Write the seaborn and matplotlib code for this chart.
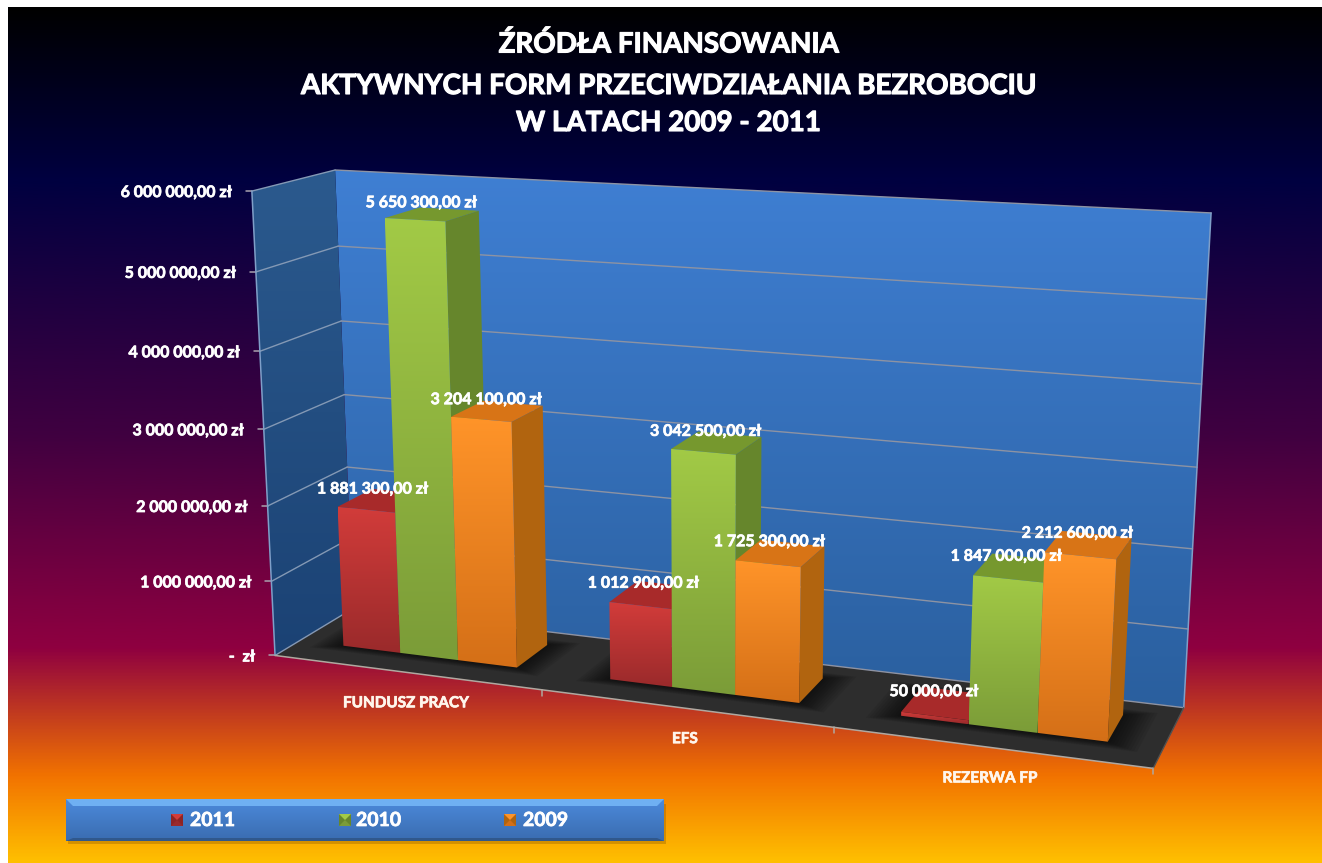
import numpy as np
import pandas as pd
import matplotlib
matplotlib.use("Agg")
import matplotlib.pyplot as plt
import seaborn as sns
from matplotlib.colors import LinearSegmentedColormap
from matplotlib.patches import Polygon
import matplotlib.patheffects as pe

categories = ["FUNDUSZ PRACY", "EFS", "REZERWA FP"]
years = ["2011", "2010", "2009"]
values_2011 = [1881300, 1012900, 50000]
values_2010 = [5650300, 3042500, 1847000]
values_2009 = [3204100, 1725300, 2212600]
y_ticks = [0, 1000000, 2000000, 3000000, 4000000, 5000000, 6000000]
title_lines = ["ŹRÓDŁA FINANSOWANIA", "AKTYWNYCH FORM PRZECIWDZIAŁANIA BEZROBOCIU", "W LATACH 2009 - 2011"]

W, H = 1322, 863
Y_MAX = 6000000

sns.set_theme(style="white")
plt.rcParams["font.family"] = ["Lato", "DejaVu Sans"]
plt.rcParams["font.weight"] = "bold"

df = pd.DataFrame({
    "kategoria": categories * 3,
    "rok": sum([[r] * 3 for r in years], []),
    "kwota": values_2011 + values_2010 + values_2009,
})

fig = plt.figure(figsize=(W / 100, H / 100), dpi=100, facecolor="white")
ax = fig.add_axes([0, 0, 1, 1])
ax.set_axis_off()

# ukryte osie - seaborn liczy slupki, potem rzutujemy je na "3D"
ax_src = fig.add_axes([0, 0, 0.1, 0.1])
sns.barplot(data=df, x="kategoria", y="kwota", hue="rok", hue_order=years, order=categories,
            width=0.66, gap=0, dodge=True, ax=ax_src)
ax_src.set_visible(False)


# kalibracja rzutu perspektywicznego: (u, wartosc, glebokosc) -> piksel
corners_world = [(0, 0, 0), (3, 0, 0), (0, 1, 0), (0, 0, 1), (3, 0, 1), (0, 1, 1), (3, 1, 1)]
corners_px = [(276, 655), (1153, 769), (251, 191), (352, 609), (1184, 707), (336, 170), (1211, 213)]
rows, rhs = [], []
for (a, b, c), (px, py) in zip(corners_world, corners_px):
    rows.append([a, b, c, 1, 0, 0, 0, 0, -px * a, -px * b, -px * c])
    rhs.append(px)
    rows.append([0, 0, 0, 0, a, b, c, 1, -py * a, -py * b, -py * c])
    rhs.append(py)
m = np.linalg.lstsq(np.array(rows, float), np.array(rhs, float), rcond=None)[0]
P = np.append(m, 1.0).reshape(3, 4)


def proj(u, val, d):
    h = P @ np.array([u, val / Y_MAX, d, 1.0])
    return h[0] / h[2], h[1] / h[2]


def grad_poly(pts, top, bottom, z):
    pts = np.array(pts)
    cmap = LinearSegmentedColormap.from_list("g", [top, bottom])
    img = np.linspace(0, 1, 256).reshape(-1, 1)
    poly = Polygon(pts, closed=True, fc="none", ec="none", transform=ax.transData)
    ax.add_patch(poly)
    im = ax.imshow(img, cmap=cmap, aspect="auto", zorder=z, interpolation="bilinear",
                   extent=(pts[:, 0].min(), pts[:, 0].max(), pts[:, 1].max(), pts[:, 1].min()))
    im.set_clip_path(poly)


def bold(lw=0.5, col="white"):
    return [pe.withStroke(linewidth=lw, foreground=col)]


# tlo
bg_cmap = LinearSegmentedColormap.from_list("tlo", [
    (0.0, "#000000"), (0.2, "#000040"), (0.5, "#400040"), (0.75, "#8f0040"), (0.9, "#f27300"), (1.0, "#ffbf00")])
ax.imshow(np.linspace(0, 1, 512).reshape(-1, 1), cmap=bg_cmap, aspect="auto", zorder=0,
          extent=(8, W, H, 8), interpolation="bilinear")

# sciany i podloga
grad_poly([proj(0, 0, 1), proj(3, 0, 1), proj(3, Y_MAX, 1), proj(0, Y_MAX, 1)], "#3f7fd3", "#2a5f9e", 1)
grad_poly([proj(0, 0, 0), proj(0, 0, 1), proj(0, Y_MAX, 1), proj(0, Y_MAX, 0)], "#2b5a8e", "#1b4274", 1)
ax.add_patch(Polygon([proj(0, 0, 0), proj(3, 0, 0), proj(3, 0, 1), proj(0, 0, 1)], closed=True, fc="#2d2d2d", ec="none", zorder=2))

# siatka
for t in y_ticks:
    xa, ya = proj(0, t, 0)
    xb, yb = proj(0, t, 1)
    xc, yc = proj(3, t, 1)
    ax.plot([xa - 6, xa], [ya, ya], color="#a9a3ae", lw=1.1, zorder=3)
    ax.plot([xa, xb], [ya, yb], color="#8499b5", lw=1.0, zorder=3)
    ax.plot([xb, xc], [yb, yc], color="#8d93a3", lw=1.0, zorder=3)
    txt = "-  zł" if t == 0 else f"{t:,.2f} zł".replace(",", " ").replace(".", ",")
    ax.text(xa - 20, ya + 2, txt, color="white", fontsize=11.5, ha="right", va="center", zorder=6, path_effects=bold())
ax.plot(*zip(proj(0, 0, 0), proj(0, Y_MAX, 0)), color="#7f9fc8", lw=1.1, zorder=3)
ax.plot(*zip(proj(3, 0, 1), proj(3, Y_MAX, 1)), color="#7f9fc8", lw=1.1, zorder=3)
ax.plot(*zip(proj(0, 0, 0), proj(3, 0, 0)), color="#b0a8a0", lw=1.1, zorder=3)
ax.plot(*zip(proj(3, 0, 0), proj(3, 0, 1)), color="#505050", lw=1.0, zorder=3)
for u in [1, 2, 3]:
    xa, ya = proj(u, 0, 0)
    ax.plot([xa, xa], [ya, ya + 6], color="#b0a8a0", lw=1.1, zorder=3)

# slupki
kolory = {
    "2011": dict(top="#d23c3a", bottom="#9a2a2b", roof="#a82a2a", side="#8e2424"),
    "2010": dict(top="#a2ca46", bottom="#7b9c38", roof="#76982e", side="#66862c"),
    "2009": dict(top="#ff9429", bottom="#d46f17", roof="#d87416", side="#b1640f"),
}
D0, D1 = 0.31, 0.76
bars = []
for cont, rok in zip(ax_src.containers, years):
    for patch in cont.patches:
        u0 = patch.get_x() + 0.5
        u1 = u0 + patch.get_width()
        bars.append((u0, u1, patch.get_height(), rok))
bars.sort(key=lambda b: b[0])

# cien na podlodze
for grp in range(3):
    grp_bars = bars[grp * 3:grp * 3 + 3]
    u0, u1 = grp_bars[0][0], grp_bars[-1][1]
    for k in np.arange(0.10, 0, -0.01):
        ax.add_patch(Polygon([proj(u0 - k, 0, D0 - k), proj(u1 + k, 0, D0 - k), proj(u1 + k, 0, D1 + k), proj(u0 - k, 0, D1 + k)],
                             closed=True, fc="black", ec="none", alpha=0.07, zorder=2.5))

z = 4.0
for u0, u1, v, rok in bars:
    c = kolory[rok]
    ax.add_patch(Polygon([proj(u0, v, D0), proj(u1, v, D0), proj(u1, v, D1), proj(u0, v, D1)], closed=True, fc=c["roof"], ec="none", zorder=z))
    ax.add_patch(Polygon([proj(u1, 0, D0), proj(u1, 0, D1), proj(u1, v, D1), proj(u1, v, D0)], closed=True, fc=c["side"], ec="none", zorder=z))
    grad_poly([proj(u0, 0, D0), proj(u1, 0, D0), proj(u1, v, D0), proj(u0, v, D0)], c["top"], c["bottom"], z + 0.01)
    z += 0.02

# etykiety danych
for u0, u1, v, rok in bars:
    x, y = proj((u0 + u1) / 2, v, (D0 + D1) / 2)
    txt = f"{v:,.2f} zł".replace(",", " ").replace(".", ",")
    ax.text(x - 11, y - 11, txt, color="white", fontsize=11.5, ha="center", va="center", zorder=7, path_effects=bold())

# kategorie
for i, cat in enumerate(categories):
    x, y = proj(i + 0.5, 0, 0)
    ax.text(x, y + 31, cat, color="#fff6ec", fontsize=11, ha="center", va="center", zorder=6, path_effects=bold(0.5, "#fff6ec"))

# tytul
for line, yy in zip(title_lines, [44, 86, 123]):
    ax.text(668.5, yy, line, color="white", fontsize=20, ha="center", va="center", zorder=6,
            path_effects=[pe.withStroke(linewidth=0.8, foreground="white")])

# legenda
lx0, lx1, ly0, ly1 = 66, 664, 799, 841
ax.add_patch(Polygon([(lx0 + 2, ly0 + 5), (lx1 + 2, ly0 + 5), (lx1 + 2, ly1 + 3), (lx0 + 2, ly1 + 3)], closed=True, fc="#7a5000", ec="none", alpha=0.3, zorder=5))
grad_poly([(lx0, ly0), (lx1, ly0), (lx1, ly1), (lx0, ly1)], "#4c8adb", "#3a6cb0", 5.1)
ax.add_patch(Polygon([(lx0, ly0), (lx1, ly0), (lx1 - 7, ly0 + 7), (lx0 + 7, ly0 + 7)], closed=True, fc="#6fb0f2", ec="none", zorder=5.2))
ax.add_patch(Polygon([(lx0, ly1), (lx1, ly1), (lx1 - 7, ly1 - 3), (lx0 + 7, ly1 - 3)], closed=True, fc="#30588c", ec="none", zorder=5.2))
for rok, kx, tx in zip(years, [171, 339, 504], [190, 356, 523]):
    c = kolory[rok]
    s = 12
    ky = 814
    cx, cy = kx + s / 2, ky + s / 2
    ax.add_patch(Polygon([(kx, ky), (kx + s, ky), (kx + s, ky + s), (kx, ky + s)], closed=True, fc=c["side"], ec="none", zorder=5.3))
    ax.add_patch(Polygon([(kx, ky), (kx + s, ky), (cx, cy)], closed=True, fc=c["top"], ec="none", zorder=5.4))
    ax.add_patch(Polygon([(kx, ky + s), (kx + s, ky + s), (cx, cy)], closed=True, fc=c["bottom"], ec="none", zorder=5.4))
    ax.text(tx, 820.5, rok, color="white", fontsize=14, ha="left", va="center", zorder=6, path_effects=bold())

ax.set_xlim(0, W)
ax.set_ylim(H, 0)
fig.savefig("out.png", dpi=100, facecolor="white")
